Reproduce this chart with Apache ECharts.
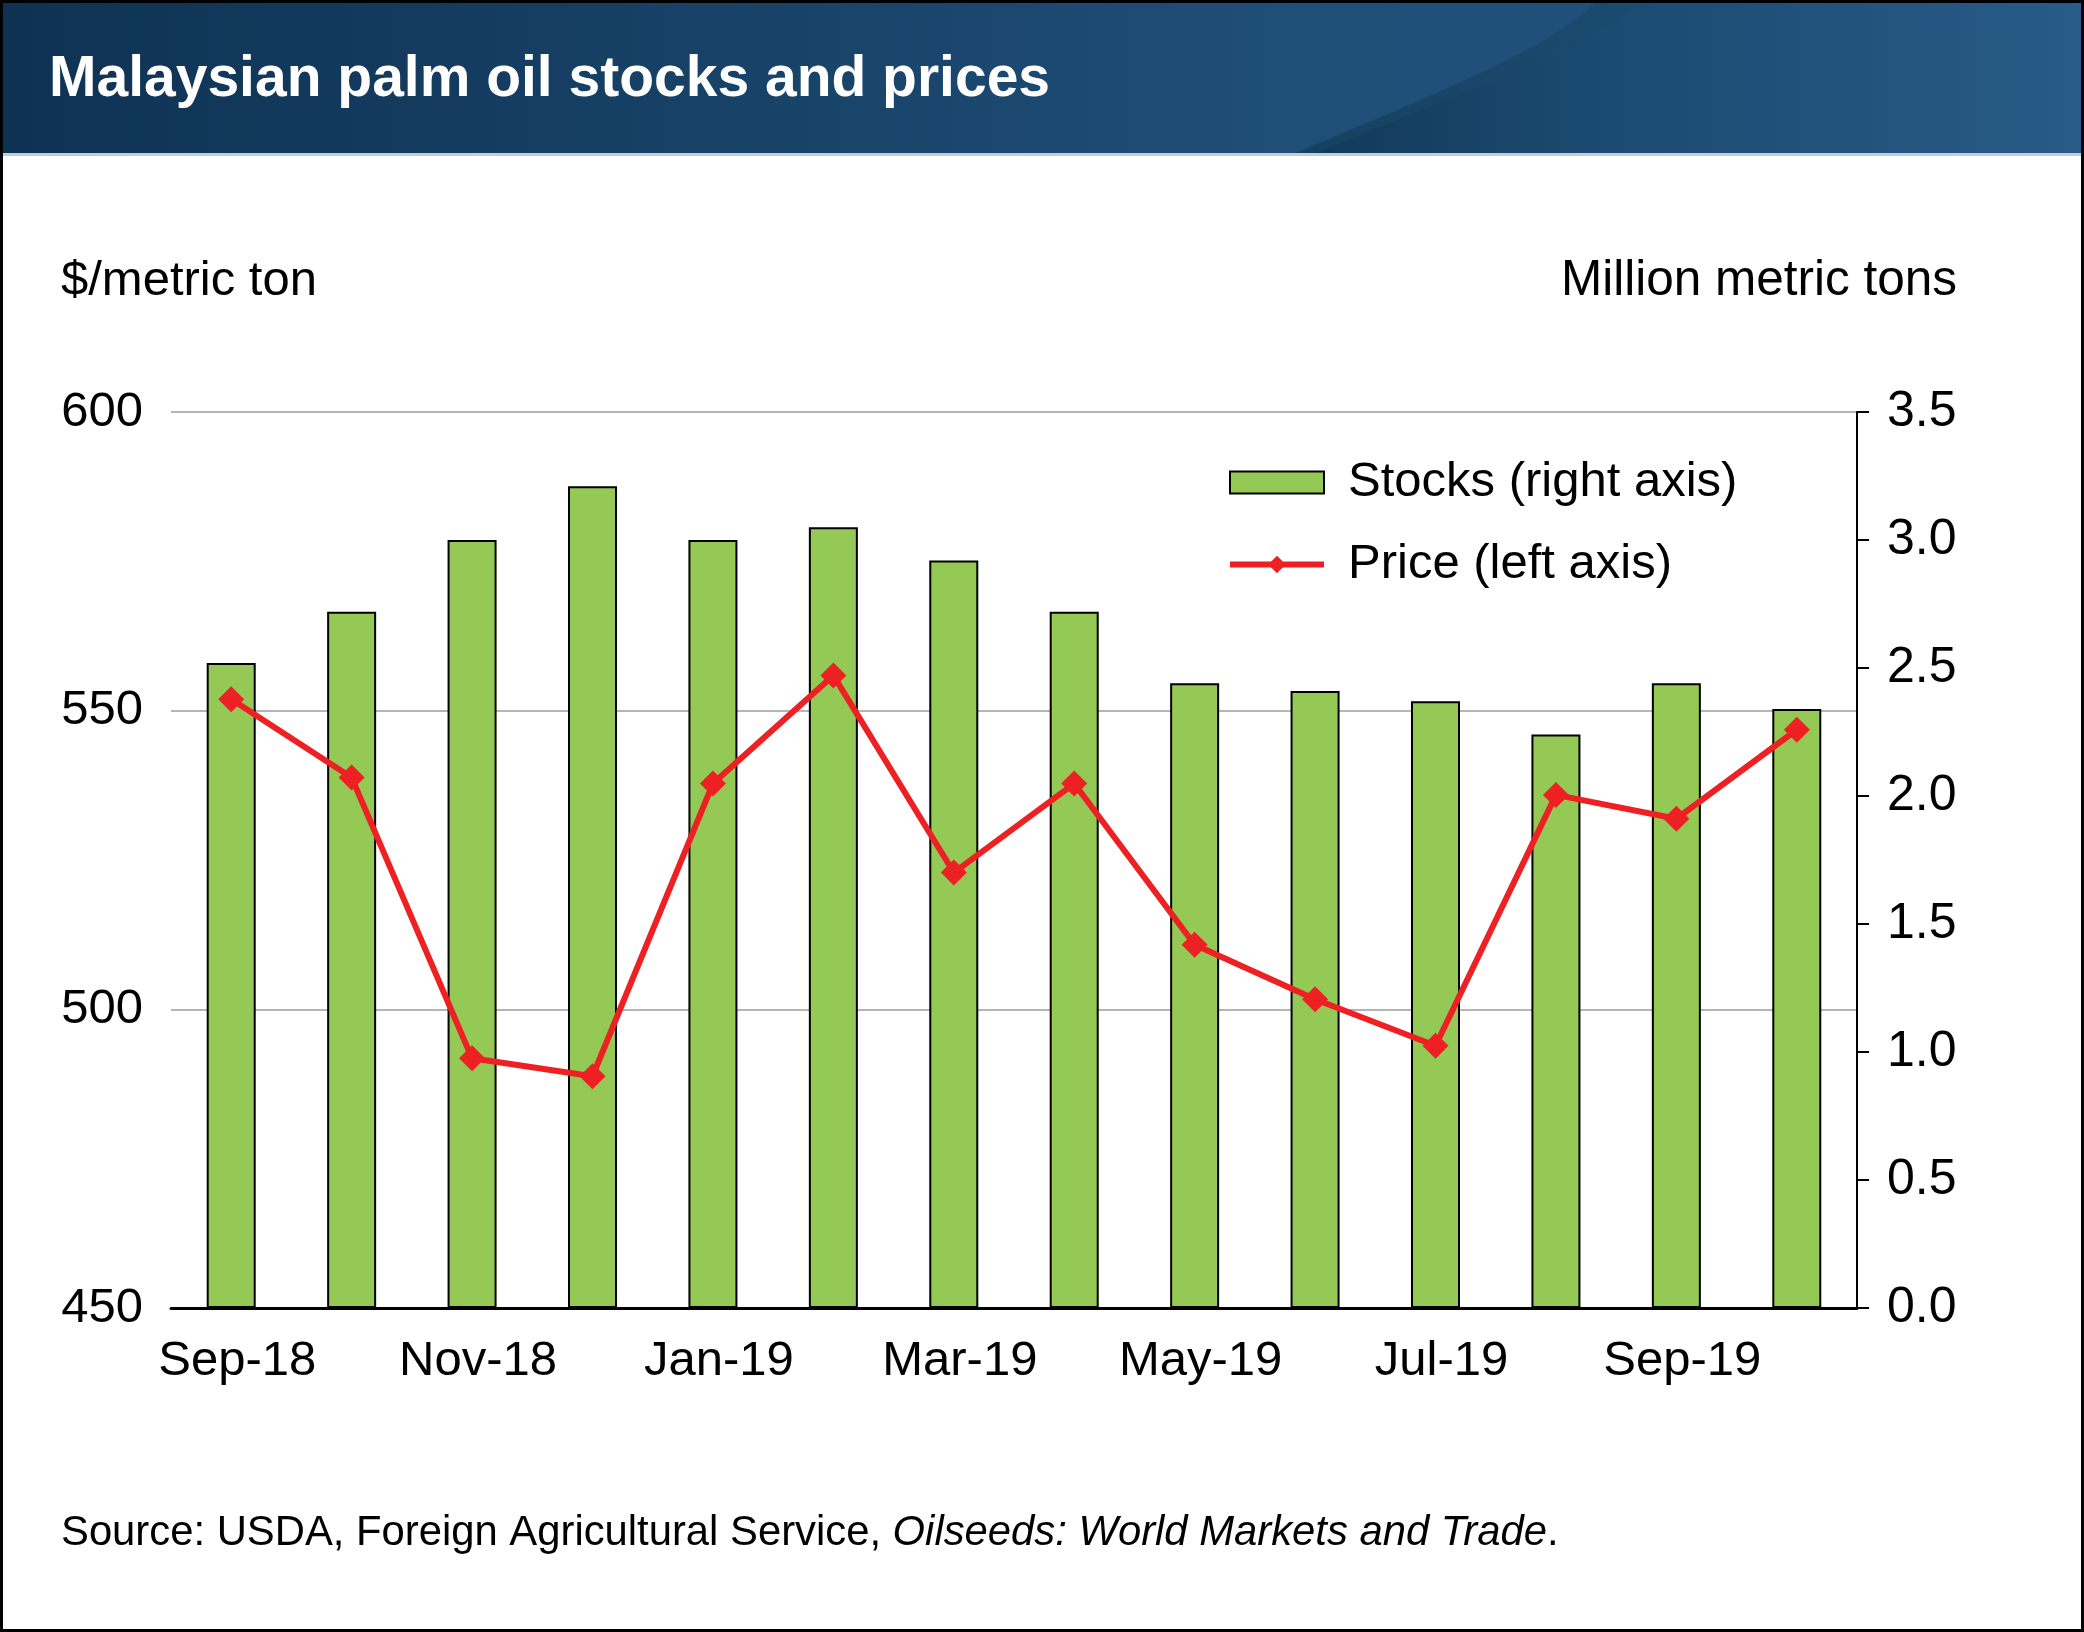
<!DOCTYPE html>
<html><head><meta charset="utf-8">
<script src="https://cdn.jsdelivr.net/npm/echarts@6/dist/echarts.min.js"></script>
<style>html,body{margin:0;padding:0;background:#fff}#c{width:2084px;height:1632px}</style>
</head><body><div id="c"></div>
<script>
// ---- Data ----
const months = ['Sep-18','Oct-18','Nov-18','Dec-18','Jan-19','Feb-19','Mar-19','Apr-19','May-19','Jun-19','Jul-19','Aug-19','Sep-19','Oct-19'];
const stocks = [2.52, 2.72, 3.00, 3.21, 3.00, 3.05, 2.92, 2.72, 2.44, 2.41, 2.37, 2.24, 2.44, 2.34];
const prices = [551.9, 538.8, 491.8, 488.8, 537.8, 555.9, 522.9, 537.8, 510.8, 501.7, 493.9, 535.9, 531.9, 546.8];
const leftAxisTicks = [450, 500, 550, 600];
const rightAxisTicks = [0.0, 0.5, 1.0, 1.5, 2.0, 2.5, 3.0, 3.5];
const titleText = 'Malaysian palm oil stocks and prices';
const leftUnit = '$/metric ton';
const rightUnit = 'Million metric tons';
const stocksName = 'Stocks (right axis)';
const priceName = 'Price (left axis)';

const FONT = '"Liberation Sans", Arial, Helvetica, sans-serif';
const chart = echarts.init(document.getElementById('c'), null, {renderer: 'canvas'});

// decorative header swoosh outline (cubic bezier sampled)
function swoosh(p0, p1, p2, p3) {
  const pts = [];
  for (let i = 0; i <= 24; i++) {
    const t = i / 24, u = 1 - t;
    pts.push([
      u*u*u*p0[0] + 3*u*u*t*p1[0] + 3*u*t*t*p2[0] + t*t*t*p3[0],
      u*u*u*p0[1] + 3*u*u*t*p1[1] + 3*u*t*t*p2[1] + t*t*t*p3[1]
    ]);
  }
  pts.push([2084, 0], [2084, 154]);
  return pts;
}

const option = {
  backgroundColor: '#ffffff',
  animation: false,
  textStyle: {fontFamily: FONT},
  grid: {left: 171, right: 227, top: 412, bottom: 324, containLabel: false, outerBoundsMode: 'none'},
  legend: {
    orient: 'vertical', left: 1222, top: 453, itemGap: 33,
    itemWidth: 94, itemHeight: 22,
    lineStyle: {width: 6},
    textStyle: {fontSize: 49, color: '#000', fontFamily: FONT, padding: [0, 0, 0, 19]},
    data: [{name: stocksName, icon: 'rect'}, {name: priceName}]
  },
  xAxis: {
    type: 'category', data: months, boundaryGap: true,
    axisLine: {show: true, lineStyle: {color: '#000', width: 3}},
    axisTick: {show: false},
    axisLabel: {interval: 1, fontSize: 49, color: '#000', margin: 29, fontFamily: FONT,
      hideOverlap: false, padding: [0, 0, 0, 12]}
  },
  yAxis: [
    {
      type: 'value', position: 'left',
      min: leftAxisTicks[0], max: leftAxisTicks[leftAxisTicks.length - 1],
      interval: leftAxisTicks[1] - leftAxisTicks[0],
      axisLine: {show: false}, axisTick: {show: false},
      splitLine: {show: true, lineStyle: {color: '#b5b5b5', width: 2}},
      axisLabel: {fontSize: 49, color: '#000', margin: 28, fontFamily: FONT}
    },
    {
      type: 'value', position: 'right',
      min: rightAxisTicks[0], max: rightAxisTicks[rightAxisTicks.length - 1],
      interval: rightAxisTicks[1] - rightAxisTicks[0],
      axisLine: {show: true, lineStyle: {color: '#000', width: 2}},
      axisTick: {show: true, inside: false, length: 12, lineStyle: {color: '#000', width: 2}},
      splitLine: {show: false},
      axisLabel: {fontSize: 50, color: '#000', margin: 30, fontFamily: FONT,
        formatter: v => v.toFixed(1)}
    }
  ],
  series: [
    {
      name: stocksName, type: 'bar', yAxisIndex: 1, data: stocks,
      barWidth: 49,
      itemStyle: {color: '#95c955', borderColor: '#000', borderWidth: 2}
    },
    {
      name: priceName, type: 'line', yAxisIndex: 0, data: prices,
      symbol: 'diamond', symbolSize: 26,
      lineStyle: {color: '#ed2024', width: 6},
      itemStyle: {color: '#ed2024'}
    }
  ],
  graphic: [
    {type: 'rect', z: 0, silent: true,
      shape: {x: 0, y: 0, width: 2084, height: 154},
      style: {fill: new echarts.graphic.LinearGradient(0, 0, 1, 0, [
        {offset: 0, color: '#0e3253'}, {offset: 0.62, color: '#1f4e77'}, {offset: 1, color: '#22527d'}])}},
    {type: 'polygon', z: 1, silent: true,
      shape: {points: swoosh([1293, 154], [1420, 100], [1560, 45], [1597, 0])},
      style: {fill: new echarts.graphic.LinearGradient(0, 0, 1, 0, [
        {offset: 0, color: '#15405f'}, {offset: 0.4, color: '#1b4a6f'}, {offset: 1, color: '#27598a'}])}},
    {type: 'polygon', z: 2, silent: true,
      shape: {points: swoosh([1314, 154], [1440, 100], [1600, 45], [1644, 0])},
      style: {fill: new echarts.graphic.LinearGradient(0, 0, 1, 0, [
        {offset: 0, color: '#12395a'}, {offset: 0.35, color: '#1b4a70'}, {offset: 1, color: '#285b88'}])}},
    {type: 'rect', z: 3, silent: true, shape: {x: 0, y: 153, width: 2084, height: 3},
      style: {fill: '#bccfe0'}},
    {type: 'text', z: 5, silent: true, x: 49, y: 80,
      style: {text: titleText, fill: '#ffffff', font: 'bold 57px ' + FONT, verticalAlign: 'middle', align: 'left'}},
    {type: 'text', z: 5, silent: true, x: 61, y: 281,
      style: {text: leftUnit, fill: '#000', font: '49px ' + FONT, verticalAlign: 'middle', align: 'left'}},
    {type: 'text', z: 5, silent: true, x: 1957, y: 281,
      style: {text: rightUnit, fill: '#000', font: '49.5px ' + FONT, verticalAlign: 'middle', align: 'right'}},
    {type: 'text', z: 5, silent: true, x: 61, y: 1533,
      style: {
        text: '{n|Source: USDA, Foreign Agricultural Service, }{i|Oilseeds: World Markets and Trade}{n|.}',
        verticalAlign: 'middle', align: 'left',
        rich: {
          n: {fontSize: 41.8, fontFamily: FONT, fill: '#000'},
          i: {fontSize: 41.8, fontFamily: FONT, fontStyle: 'italic', fill: '#000'}
        }
      }},
    {type: 'rect', z: 10, silent: true, shape: {x: 1.5, y: 1.5, width: 2081, height: 1629},
      style: {fill: 'none', stroke: '#000', lineWidth: 3}}
  ]
};
chart.setOption(option);
</script>
</body></html>
